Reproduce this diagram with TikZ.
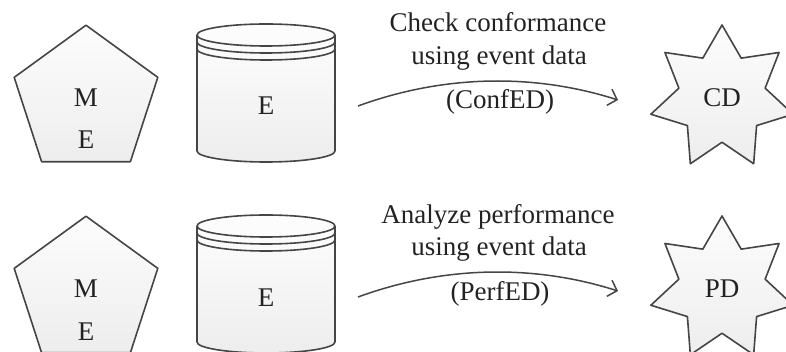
\documentclass[tikz,border=0pt]{standalone}
\usepackage{fontspec}
\setmainfont{Liberation Serif}
\usetikzlibrary{shapes.geometric, arrows.meta}

\definecolor{inkline}{HTML}{454545}
\definecolor{inktext}{HTML}{222222}

\tikzset{
  outline/.style={draw=inkline, line width=1.6pt, line join=round},
  softfill/.style={top color=black!1, bottom color=black!7},
  lbl/.style={text=inktext, font=\fontsize{27}{33}\selectfont, inner sep=0pt, anchor=base},
  modelshape/.style={outline, softfill, regular polygon, regular polygon sides=5,
    minimum size=151pt, inner sep=0pt},
  resultstar/.style={outline, softfill, star, star points=7, star point ratio=1.65,
    minimum size=146pt, inner sep=0pt, text=inktext, font=\fontsize{27}{33}\selectfont},
  flow/.style={draw=inkline, line width=1.5pt, -{Straight Barb[length=8pt,width=17pt]}},
  % event store: a cylinder with two rings under its lid, origin at the lid centre
  drum/.pic={
    \fill[softfill] (-69,0) -- (-69,116)
      arc[start angle=180, end angle=360, x radius=69pt, y radius=11pt] -- (69,0) -- cycle;
    \draw[outline] (-69,0) -- (-69,116)
      arc[start angle=180, end angle=360, x radius=69pt, y radius=11pt] -- (69,0);
    \draw[outline, fill=black!1] (0,0) ellipse[x radius=69pt, y radius=11pt];
    \draw[outline] (-69,7) arc[start angle=180, end angle=360, x radius=69pt, y radius=11pt];
    \draw[outline] (-69,14) arc[start angle=180, end angle=360, x radius=69pt, y radius=11pt];
    \node[lbl] (-txt) at (0,80) {#1};
  }
}

\begin{document}
\begin{tikzpicture}[x=1pt, y=-1pt]
\useasboundingbox (0,0) rectangle (786,352);

% upper row: conformance checking
\node[modelshape] (me1) at (86,100.7) {};
\node[lbl] (me1m) at (86,107) {M};
\node[lbl] (me1e) at (86,149) {E};
\pic (db1) at (266,35) {drum=E};
\node[resultstar] (cd) at (722,98) {CD};
\node[lbl] (t1a) at (498,32) {Check conformance};
\node[lbl] (t1b) at (499,65) {using event data};
\node[lbl] (t1c) at (500,109) {(ConfED)};
\coordinate (f1s) at (358,106);
\coordinate (f1e) at (618,100);
\draw[flow] (f1s) .. controls (440,76) and (530,72) .. (f1e);

% lower row: performance analysis
\begin{scope}[shift={(0,191)}]
\node[modelshape] (me2) at (86,100.7) {};
\node[lbl] (me2m) at (86,107) {M};
\node[lbl] (me2e) at (86,149) {E};
\pic (db2) at (266,35) {drum=E};
\node[resultstar] (pd) at (722,98) {PD};
\node[lbl] (t2a) at (498,33) {Analyze performance};
\node[lbl] (t2b) at (499,65) {using event data};
\node[lbl] (t2c) at (500,109) {(PerfED)};
\coordinate (f2s) at (358,106);
\coordinate (f2e) at (618,100);
\draw[flow] (f2s) .. controls (440,76) and (530,72) .. (f2e);
\end{scope}
\end{tikzpicture}
\end{document}
